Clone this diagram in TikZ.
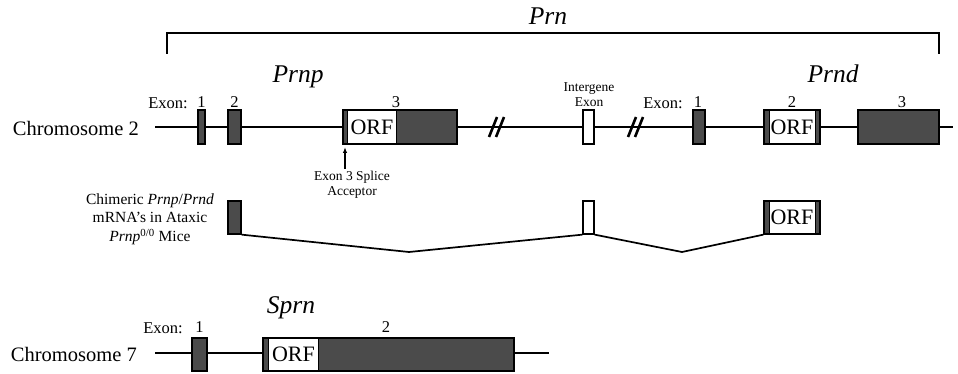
\documentclass[tikz,border=0pt]{standalone}
\usepackage{fontspec}
\setmainfont{Liberation Serif}
\usetikzlibrary{arrows.meta}
\definecolor{exdark}{HTML}{4B4B4B}
\begin{document}
\begin{tikzpicture}[x=1pt,y=-1pt,
  chrom/.style={line width=2.8pt},
  conn/.style={line width=1.7pt},
  exonbox/.style={draw=black, line width=1.3pt, fill=exdark, rectangle, inner sep=0pt, minimum height=34pt},
  whitebox/.style={draw=black, line width=1.3pt, fill=white, rectangle, inner sep=0pt, minimum height=34pt},
  orfbox/.style={draw=black, line width=1pt, fill=white, rectangle, inner sep=0pt, minimum height=33pt, font=\fontsize{22}{24}\selectfont},
  chromlabel/.style={inner sep=0pt, font=\fontsize{20.5}{24}\selectfont},
  exlabel/.style={inner sep=0pt, font=\fontsize{16.5}{19}\selectfont},
  smalllabel/.style={inner sep=0pt, font=\fontsize{13.5}{15}\selectfont, align=center},
  genename/.style={inner sep=0pt, font=\fontsize{25.5}{28}\itshape\selectfont, anchor=base},
  brk/.style={line width=2.6pt}
]
\useasboundingbox (0,0) rectangle (958,374);

% ---------- Prn bracket ----------
\coordinate (brL) at (167,54);
\coordinate (brR) at (939,54);
\draw[line width=1.6pt] (brL) |- (553,33) -| (brR);
\node[genename] (prn) at (548,25) {Prn};

% ---------- Chromosome 2 ----------
\node[chromlabel, anchor=east] (chr2) at (139,128) {Chromosome 2};
\coordinate (c2s) at (155,127);
\coordinate (c2e) at (953,127);
\draw[chrom] (c2s) -- (c2e);

\node[genename] (prnp) at (298,83) {Prnp};
\node[genename] (prnd) at (833,83) {Prnd};

\node[exlabel, anchor=east] (exA) at (188,103) {Exon:};
\node[exlabel] (nA1) at (201.5,102) {1};
\node[exlabel] (nA2) at (234.5,102) {2};
\node[exlabel] (nA3) at (396,102) {3};

\node[exonbox, minimum width=7pt] (a1) at (201.5,127) {};
\node[exonbox, minimum width=13pt] (a2) at (234.5,127) {};
\node[exonbox, minimum width=114pt] (a3) at (400,127) {};
\node[orfbox, minimum width=49pt, anchor=west] (a3orf) at (347,127) {ORF};

% splice acceptor arrow
\coordinate (arrS) at (345,169);
\draw[line width=1.2pt, -{Latex[length=6pt,width=4.5pt]}] (arrS) -- (345,147);
\node[smalllabel] (splice) at (352,185) {Exon 3 Splice\\Acceptor};

% break marks
\coordinate (bk1) at (497,127);
\coordinate (bk2) at (636,127);
\draw[brk] (bk1) ++(-8,10) -- ++(8,-20);
\draw[brk] (bk1) ++(-1,10) -- ++(8,-20);
\draw[brk] (bk2) ++(-8,10) -- ++(8,-20);
\draw[brk] (bk2) ++(-1,10) -- ++(8,-20);

% intergene exon
\node[smalllabel] (ilab) at (589,95) {Intergene\\Exon};
\node[whitebox, minimum width=11pt] (ie) at (588.5,127) {};

% Prnd exons
\node[exlabel, anchor=east] (exB) at (683,103) {Exon:};
\node[exlabel] (nB1) at (698,102) {1};
\node[exlabel] (nB2) at (792,102) {2};
\node[exlabel] (nB3) at (902,102) {3};
\node[exonbox, minimum width=12pt] (b1) at (699,127) {};
\node[exonbox, minimum width=56pt] (b2) at (792,127) {};
\node[orfbox, minimum width=46pt] (b2orf) at (792,127) {ORF};
\node[exonbox, minimum width=81pt] (b3) at (898.5,127) {};

% ---------- Chimeric mRNA ----------
\node[inner sep=0pt, align=center, font=\fontsize{15.5}{18.5}\selectfont] (chim) at (150,219)
  {Chimeric \textit{Prnp}/\textit{Prnd}\\mRNA's in Ataxic\\\textit{Prnp}\textsuperscript{0/0} Mice};
\node[exonbox, minimum width=13pt, minimum height=33pt] (m1) at (234.5,217.5) {};
\node[whitebox, minimum width=11pt, minimum height=33pt] (mi) at (588.5,217.5) {};
\node[exonbox, minimum width=56pt, minimum height=33pt] (m3) at (792,217.5) {};
\node[orfbox, minimum width=46pt, minimum height=32pt] (m3orf) at (792,217.5) {ORF};
\coordinate (v1) at (409,252);
\coordinate (v2) at (682,252);
\draw[conn] (m1.south east) -- (v1) -- (mi.south west);
\draw[conn] (mi.south east) -- (v2) -- (m3.south west);

% ---------- Chromosome 7 ----------
\node[chromlabel, anchor=east] (chr7) at (137,354) {Chromosome 7};
\coordinate (c7s) at (155,353);
\coordinate (c7e) at (549,353);
\draw[chrom] (c7s) -- (c7e);
\node[genename] (sprn) at (291,313) {Sprn};
\node[exlabel, anchor=east] (exC) at (183,328) {Exon:};
\node[exlabel] (nC1) at (199.5,327) {1};
\node[exlabel] (nC2) at (386,327) {2};
\node[exonbox, minimum width=15pt, minimum height=33pt] (s1) at (199.5,354.5) {};
\node[exonbox, minimum width=251pt, minimum height=33pt] (s2) at (388.5,354.5) {};
\node[orfbox, minimum width=50pt, minimum height=32pt, anchor=west] (s2orf) at (268,354.5) {ORF};
\end{tikzpicture}
\end{document}
